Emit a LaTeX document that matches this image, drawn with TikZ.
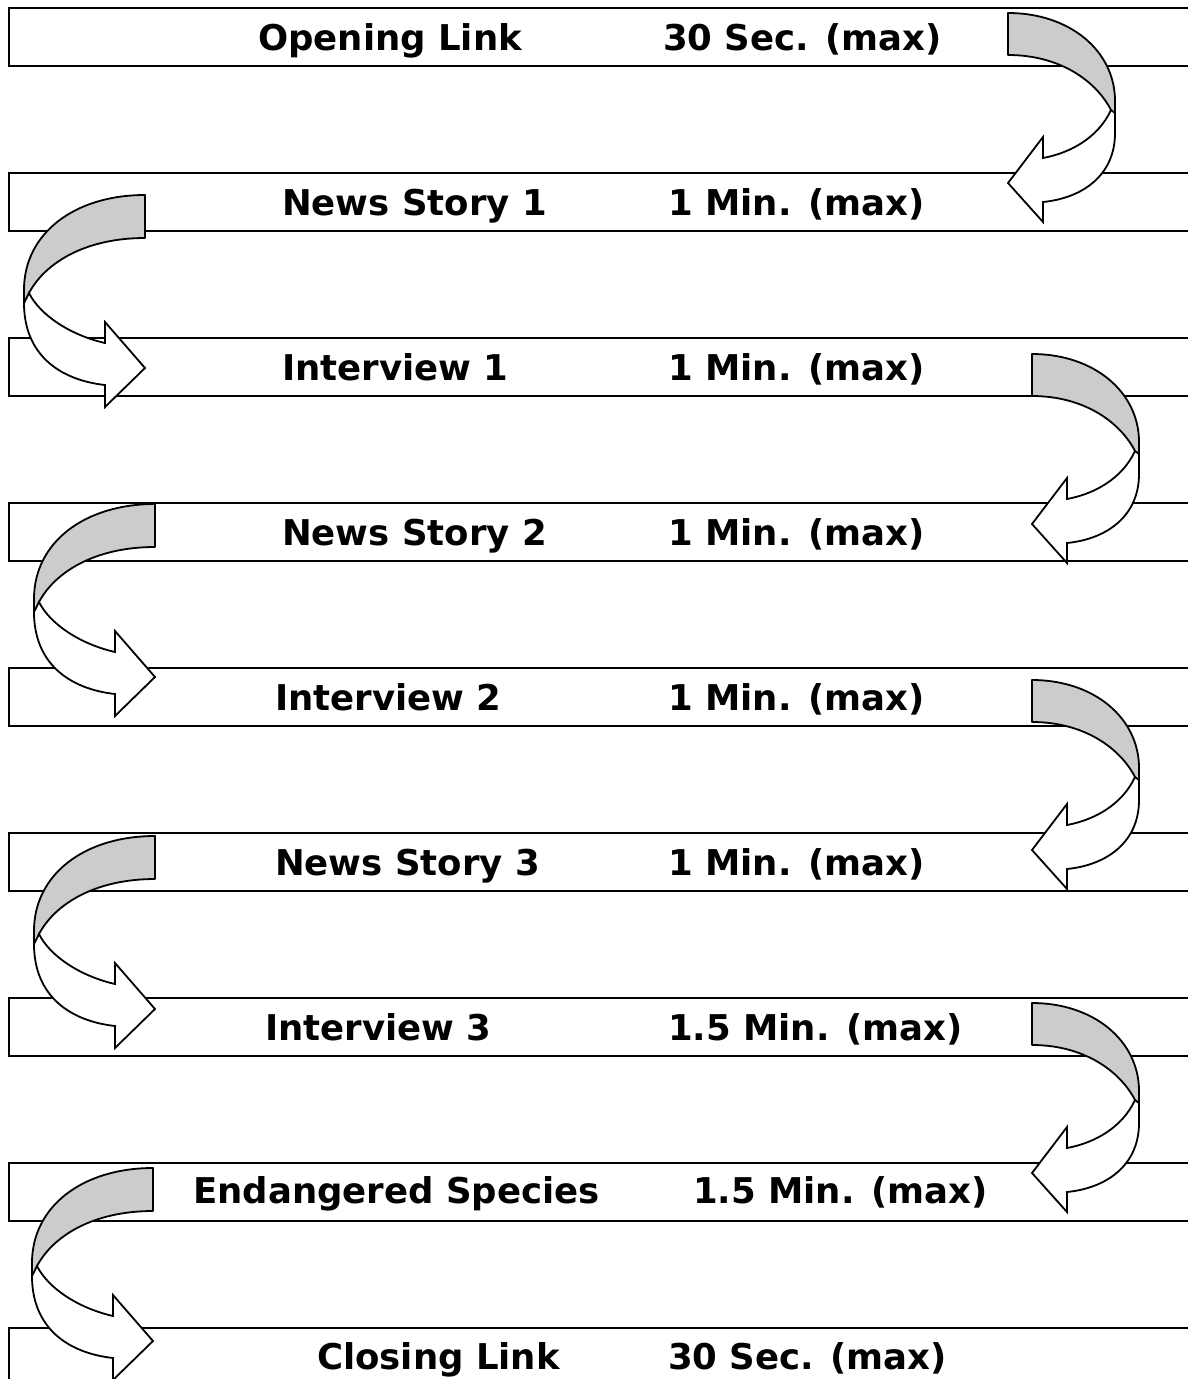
\documentclass[tikz,border=0pt]{standalone}
\usepackage{fontspec}
\setmainfont{DejaVu Sans}
\definecolor{ribbon}{RGB}{204,204,204}
\tikzset{
  bar/.style={draw=black, line width=2.2pt, rectangle, minimum width=1300pt, minimum height=58pt, inner sep=0pt, anchor=north west},
  lbl/.style={anchor=base west, inner sep=0pt, font=\fontsize{35.5pt}{40pt}\selectfont\bfseries},
  backpart/.style={draw=black, line width=1.8pt, fill=ribbon, line join=round},
  frontpart/.style={draw=black, line width=1.8pt, fill=white, line join=miter}
}
\newcommand\rightcurl[2]{%
  \begin{scope}[shift={(#1,#2)}]
    \path[backpart] (0,0) .. controls (62,0) and (107,38) .. (107,88) -- (107,104)
      -- (103,97) .. controls (88,68) and (52,42) .. (0,42) -- cycle;
    \path[frontpart] (107,100) -- (107,120) .. controls (107,162) and (75,185) .. (35,189)
      -- (35,209) -- (0,170) -- (35,124) -- (35,145)
      .. controls (62,140) and (90,125) .. (103,97) -- cycle;
  \end{scope}}
\newcommand\leftcurl[2]{%
  \begin{scope}[shift={(#1,#2)}]
    \path[backpart] (0,0) .. controls (-70,0) and (-121,38) .. (-121,95) -- (-121,112)
      -- (-116,98) .. controls (-100,68) and (-60,43) .. (0,43) -- cycle;
    \path[frontpart] (-121,108) .. controls (-121,160) and (-85,185) .. (-40,190)
      -- (-40,212) -- (0,173) -- (-40,127) -- (-40,148)
      .. controls (-75,140) and (-105,120) .. (-116,98) -- cycle;
  \end{scope}}
\begin{document}
\begin{tikzpicture}[x=1pt,y=-1pt]
\useasboundingbox (0,0) rectangle (1188,1379);
\clip (0,0) rectangle (1188,1379);
\fill[white] (0,0) rectangle (1188,1379);
% bars
\foreach \i in {0,...,8} {
  \node[bar] (box\i) at (8,{7+165*\i}) {};
}
% texts
\node[lbl] (l0) at (258,50) {Opening Link};
\node[lbl] (r0) at (663,50) {30 Sec. (max)};
\node[lbl] (l1) at (282,215) {News Story 1};
\node[lbl] (r1) at (668,215) {1 Min. (max)};
\node[lbl] (l2) at (282,380) {Interview 1};
\node[lbl] (r2) at (668,380) {1 Min. (max)};
\node[lbl] (l3) at (282,545) {News Story 2};
\node[lbl] (r3) at (668,545) {1 Min. (max)};
\node[lbl] (l4) at (275,710) {Interview 2};
\node[lbl] (r4) at (668,710) {1 Min. (max)};
\node[lbl] (l5) at (275,875) {News Story 3};
\node[lbl] (r5) at (668,875) {1 Min. (max)};
\node[lbl] (l6) at (265,1040) {Interview 3};
\node[lbl] (r6) at (668,1040) {1.5 Min. (max)};
\node[lbl] (l7) at (193,1203) {Endangered Species};
\node[lbl] (r7) at (693,1203) {1.5 Min. (max)};
\node[lbl] (l8) at (317,1369) {Closing Link};
\node[lbl] (r8) at (668,1369) {30 Sec. (max)};
% curved arrows
\rightcurl{1008}{13}
\rightcurl{1032}{354}
\rightcurl{1032}{680}
\rightcurl{1032}{1003}
\leftcurl{145}{195}
\leftcurl{155}{504}
\leftcurl{155}{836}
\leftcurl{153}{1168}
\end{tikzpicture}
\end{document}
